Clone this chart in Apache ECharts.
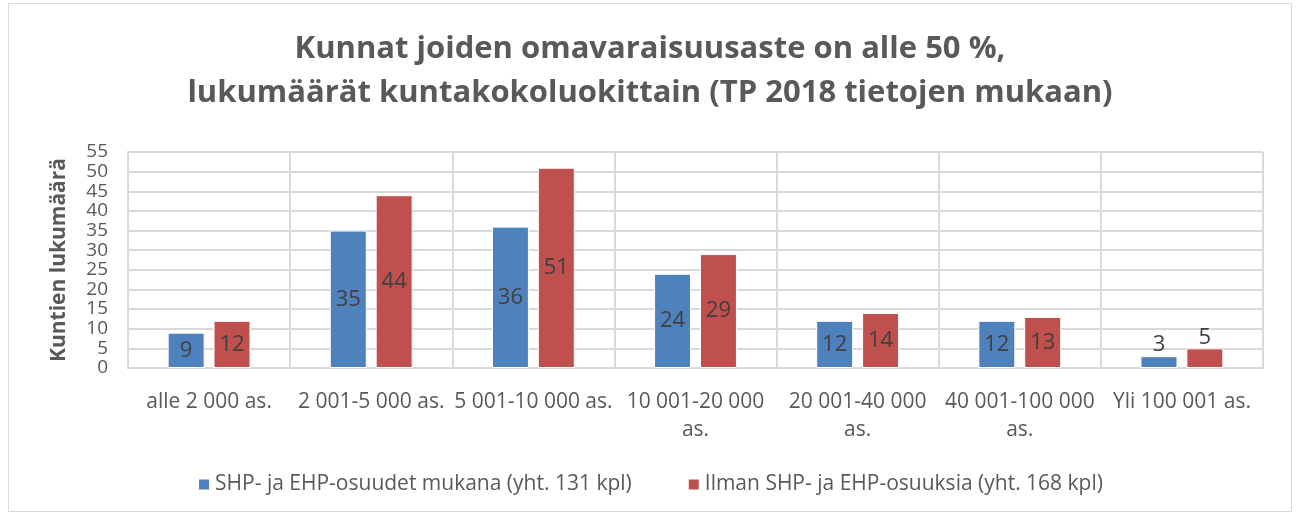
<!DOCTYPE html>
<html><head><meta charset="utf-8">
<script src="https://cdn.jsdelivr.net/npm/echarts@6/dist/echarts.min.js"></script>
<style>html,body{margin:0;padding:0;background:#fff}#c{width:1300px;height:517px}</style>
</head><body><div id="c"></div>
<script>
const categories = ["alle 2 000 as.", "2 001-5 000 as.", "5 001-10 000 as.", "10 001-20 000 as.", "20 001-40 000 as.", "40 001-100 000 as.", "Yli 100 001 as."];
const seriesNames = ["SHP- ja EHP-osuudet mukana (yht. 131 kpl)", "Ilman SHP- ja EHP-osuuksia (yht. 168 kpl)"];
const withShares = [9, 35, 36, 24, 12, 12, 3];
const withoutShares = [12, 44, 51, 29, 14, 13, 5];
const yTicks = {min: 0, max: 55, interval: 5};

const font = "'Open Sans', sans-serif";
function mk(vals) {
  return vals.map(v => v < 8 ? {value: v, label: {position: 'top', distance: 0}} : v);
}
const chart = echarts.init(document.getElementById('c'));
chart.setOption({
  animation: false,
  title: {
    text: "Kunnat joiden omavaraisuusaste on alle 50 %,\nlukumäärät kuntakokoluokittain (TP 2018 tietojen mukaan)",
    left: 'center', top: 22,
    textStyle: {fontFamily: font, fontSize: 31, fontWeight: 'bold', color: '#595959', lineHeight: 44}
  },
  graphic: [{type: 'rect', shape: {x: 8.5, y: 3.5, width: 1283, height: 508}, style: {fill: 'none', stroke: '#d9d9d9', lineWidth: 1}, silent: true}],
  legend: {
    bottom: 17, left: 'center', itemGap: 55, itemWidth: 12, itemHeight: 12, icon: 'rect',
    textStyle: {fontFamily: font, fontSize: 21, color: '#595959'},
    data: seriesNames
  },
  grid: {left: 128, right: 37, top: 152, bottom: 149},
  xAxis: {
    type: 'category', data: categories,
    axisLine: {lineStyle: {color: '#d9d9d9', width: 2}},
    axisTick: {show: false},
    splitLine: {show: true, lineStyle: {color: '#d9d9d9', width: 2}},
    axisLabel: {fontFamily: font, fontSize: 21, color: '#595959', margin: 20, lineHeight: 28, interval: 0,
      formatter: s => s.length > 16 ? s.replace(/ as\.$/, '\nas.') : s}
  },
  yAxis: {
    type: 'value', min: yTicks.min, max: yTicks.max, interval: yTicks.interval,
    name: 'Kuntien lukumäärä', nameLocation: 'middle', nameGap: 58, nameRotate: 90,
    nameTextStyle: {fontFamily: font, fontSize: 21, fontWeight: 'bold', color: '#595959'},
    axisLine: {show: true, lineStyle: {color: '#d9d9d9', width: 2}},
    axisTick: {show: false},
    splitLine: {lineStyle: {color: '#d9d9d9', width: 2}},
    axisLabel: {fontFamily: font, fontSize: 19, color: '#595959', margin: 20, lineHeight: 19}
  },
  series: [
    {name: seriesNames[0], type: 'bar', data: mk(withShares), barWidth: 37, barGap: '24%',
     itemStyle: {color: '#4F81BD', borderColor: '#fff', borderWidth: 1},
     label: {show: true, position: 'inside', fontFamily: font, fontSize: 22, color: '#404040'}},
    {name: seriesNames[1], type: 'bar', data: mk(withoutShares), barWidth: 37,
     itemStyle: {color: '#C0504D', borderColor: '#fff', borderWidth: 1},
     label: {show: true, position: 'inside', fontFamily: font, fontSize: 22, color: '#404040'}}
  ]
});
</script></body></html>
